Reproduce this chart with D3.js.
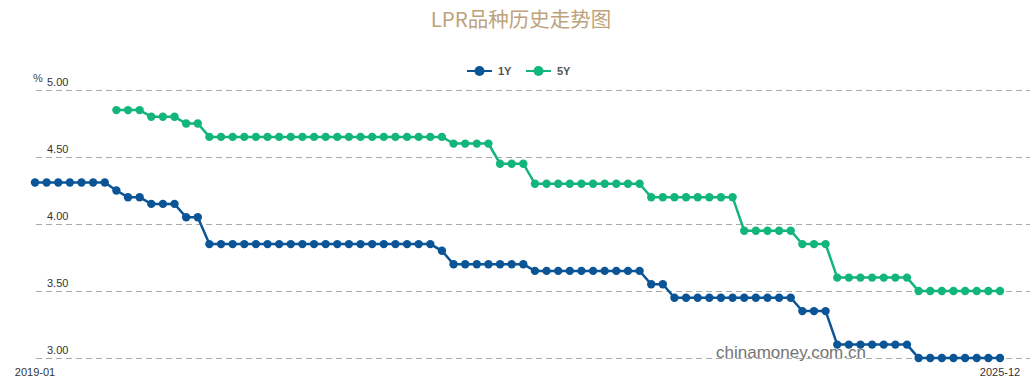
<!DOCTYPE html>
<html>
<head>
<meta charset="utf-8">
<script src="https://cdn.jsdelivr.net/npm/d3@7"></script>
<style>
  body { margin: 0; background: #fff; }
  svg { display: block; font-family: "Liberation Sans", Arial, sans-serif; }
</style>
</head>
<body>
<div id="chart"></div>
<script>
// months 2019-01 .. 2025-12
const months = [];
for (let y = 2019; y <= 2025; y++) {
  for (let m = 1; m <= 12; m++) months.push(`${y}-${String(m).padStart(2, "0")}`);
}

// 1Y LPR, monthly
const lpr1y = [
  4.31, 4.31, 4.31, 4.31, 4.31, 4.31, 4.31, 4.25, 4.20, 4.20, 4.15, 4.15,
  4.15, 4.05, 4.05, 3.85, 3.85, 3.85, 3.85, 3.85, 3.85, 3.85, 3.85, 3.85,
  3.85, 3.85, 3.85, 3.85, 3.85, 3.85, 3.85, 3.85, 3.85, 3.85, 3.85, 3.80,
  3.70, 3.70, 3.70, 3.70, 3.70, 3.70, 3.70, 3.65, 3.65, 3.65, 3.65, 3.65,
  3.65, 3.65, 3.65, 3.65, 3.65, 3.55, 3.55, 3.45, 3.45, 3.45, 3.45, 3.45,
  3.45, 3.45, 3.45, 3.45, 3.45, 3.45, 3.35, 3.35, 3.35, 3.10, 3.10, 3.10,
  3.10, 3.10, 3.10, 3.10, 3.00, 3.00, 3.00, 3.00, 3.00, 3.00, 3.00, 3.00
];

// 5Y LPR, starts 2019-08
const lpr5y = [
  null, null, null, null, null, null, null, 4.85, 4.85, 4.85, 4.80, 4.80,
  4.80, 4.75, 4.75, 4.65, 4.65, 4.65, 4.65, 4.65, 4.65, 4.65, 4.65, 4.65,
  4.65, 4.65, 4.65, 4.65, 4.65, 4.65, 4.65, 4.65, 4.65, 4.65, 4.65, 4.65,
  4.60, 4.60, 4.60, 4.60, 4.45, 4.45, 4.45, 4.30, 4.30, 4.30, 4.30, 4.30,
  4.30, 4.30, 4.30, 4.30, 4.30, 4.20, 4.20, 4.20, 4.20, 4.20, 4.20, 4.20,
  4.20, 3.95, 3.95, 3.95, 3.95, 3.95, 3.85, 3.85, 3.85, 3.60, 3.60, 3.60,
  3.60, 3.60, 3.60, 3.60, 3.50, 3.50, 3.50, 3.50, 3.50, 3.50, 3.50, 3.50
];

const yTicks = [3.0, 3.5, 4.0, 4.5, 5.0];
const xLabels = ["2019-01", "2025-12"];

const series = [
  { name: "1Y", values: lpr1y, color: "#0b5597" },
  { name: "5Y", values: lpr5y, color: "#12b57a" }
];

const width = 1032, height = 382;
const svg = d3.select("#chart").append("svg")
  .attr("width", width)
  .attr("height", height);

const x = d3.scalePoint().domain(months).range([35, 1000]);
const y = d3.scaleLinear().domain([3, 5]).range([358, 90]);

// title
svg.append("text")
  .attr("x", 521)
  .attr("y", 27)
  .attr("text-anchor", "middle")
  .attr("font-size", 20.5)
  .attr("fill", "#bea27c")
  .attr("font-family", "'Noto Sans CJK SC', sans-serif")
  .text("LPR品种历史走势图");

// grid + y labels
const yAxis = svg.append("g")
  .attr("transform", "translate(36,0)")
  .call(d3.axisRight(y).tickValues(yTicks).tickSize(994).tickFormat(d3.format(".2f")));
yAxis.select(".domain").remove();
yAxis.selectAll(".tick line")
  .attr("stroke", "#aaa")
  .attr("stroke-dasharray", "6,4");
yAxis.selectAll(".tick text")
  .attr("x", 11)
  .attr("dy", -5)
  .attr("font-size", 11)
  .attr("fill", "#333");

svg.append("text")
  .attr("x", 33)
  .attr("y", 82)
  .attr("font-size", 11)
  .attr("fill", "#444")
  .text("%");

// x labels, only first and last
svg.append("g")
  .selectAll("text")
  .data(xLabels)
  .join("text")
  .attr("x", d => x(d))
  .attr("y", 376)
  .attr("text-anchor", "middle")
  .attr("font-size", 11)
  .attr("fill", "#333")
  .text(d => d);

// watermark
svg.append("text")
  .attr("x", 716)
  .attr("y", 358)
  .attr("font-size", 17)
  .attr("fill", "#666")
  .attr("opacity", 0.9)
  .text("chinamoney.com.cn");

const line = d3.line()
  .defined(d => d != null)
  .x((d, i) => x(months[i]))
  .y(d => y(d));

for (const s of series) {
  const g = svg.append("g");
  g.append("path")
    .datum(s.values)
    .attr("fill", "none")
    .attr("stroke", s.color)
    .attr("stroke-width", 2.5)
    .attr("d", line);
  g.selectAll("circle")
    .data(s.values.map((v, i) => ({ v, m: months[i] })).filter(d => d.v != null))
    .join("circle")
    .attr("cx", d => x(d.m))
    .attr("cy", d => y(d.v))
    .attr("r", 4.2)
    .attr("fill", s.color);
}

// legend
const legend = svg.append("g")
  .selectAll("g")
  .data(series)
  .join("g")
  .attr("transform", (d, i) => `translate(${467 + i * 59},71)`);
legend.append("line")
  .attr("x1", 0).attr("x2", 25)
  .attr("stroke", d => d.color)
  .attr("stroke-width", 2);
legend.append("circle")
  .attr("cx", 12.5)
  .attr("r", 5)
  .attr("fill", d => d.color);
legend.append("text")
  .attr("x", 31)
  .attr("dy", "0.35em")
  .attr("font-size", 11)
  .attr("font-weight", "bold")
  .attr("fill", "#555")
  .text(d => d.name);
</script>
</body>
</html>
